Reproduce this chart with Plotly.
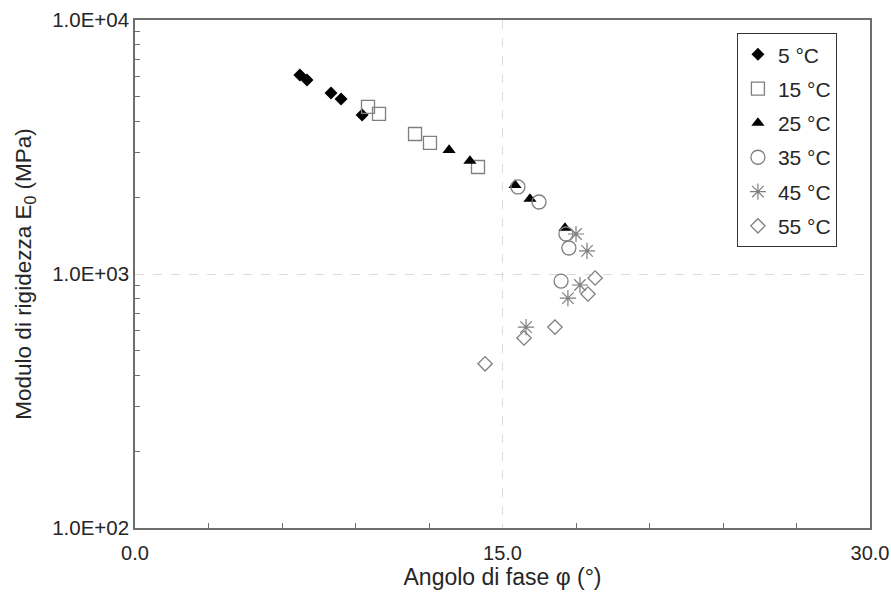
import plotly.graph_objects as go

# Phase angle (deg) and stiffness modulus E0 (MPa) per test temperature
phi_5 = [6.73, 7.02, 8.00, 8.41, 9.27]
e0_5 = [6075, 5807, 5161, 4887, 4227]

phi_15 = [9.51, 9.96, 11.43, 12.04, 14.00]
e0_15 = [4546, 4266, 3558, 3280, 2638]

phi_25 = [12.82, 13.67, 15.51, 16.12, 17.55]
e0_25 = [3076, 2786, 2240, 1974, 1518]

phi_35 = [15.63, 16.49, 17.59, 17.71, 17.39]
e0_35 = [2201, 1921, 1437, 1266, 938]

phi_45 = [18.00, 18.45, 18.16, 17.67, 15.96]
e0_45 = [1437, 1233, 905, 804, 618]

phi_55 = [18.78, 18.49, 17.14, 15.88, 14.29]
e0_55 = [964, 834, 618, 560, 443]

series_names = ["5 °C", "15 °C", "25 °C", "35 °C", "45 °C", "55 °C"]

x_tickvals = [0, 15, 30]
x_ticktext = ["0.0", "15.0", "30.0"]
y_tickvals = [100, 1000, 10000]
y_ticktext = ["1.0E+02", "1.0E+03", "1.0E+04"]

FONT = "Liberation Sans, Arial, sans-serif"
GRAY = "#7f7f7f"
TXT = "#262626"

styles = [
    dict(symbol="diamond", size=10, color="black", line=dict(width=0)),
    dict(symbol="square-open", size=13, color=GRAY, line=dict(width=1.3)),
    dict(symbol="triangle-up", size=11.5, color="black", line=dict(width=0)),
    dict(symbol="circle-open", size=14, color=GRAY, line=dict(width=1.3)),
    dict(symbol="asterisk-open", size=13.5, color=GRAY, line=dict(width=1.2, color=GRAY)),
    dict(symbol="diamond-open", size=11, color=GRAY, line=dict(width=1.3)),
]

data = [(phi_5, e0_5), (phi_15, e0_15), (phi_25, e0_25),
        (phi_35, e0_35), (phi_45, e0_45), (phi_55, e0_55)]

fig = go.Figure()
for i, ((xs, ys), name, st) in enumerate(zip(data, series_names, styles)):
    fig.add_trace(go.Scatter(
        x=xs, y=ys, mode="markers", name=name,
        legendgroup=f"g{i}",
        marker=st,
    ))

fig.update_layout(
    width=891, height=596,
    margin=dict(l=135, r=21, t=20, b=68),
    paper_bgcolor="white", plot_bgcolor="white",
    font=dict(family=FONT, size=20, color=TXT),
    showlegend=True,
    legend=dict(
        x=0.955, y=0.974, xanchor="right", yanchor="top",
        bgcolor="white", bordercolor="#333", borderwidth=1,
        font=dict(family=FONT, size=21, color=TXT),
        traceorder="grouped", tracegroupgap=4,
        itemwidth=30,
    ),
)

fig.update_xaxes(
    range=[0, 30], tickvals=x_tickvals, ticktext=x_ticktext, automargin=False,
    ticks="outside", ticklen=6, tickcolor="rgba(0,0,0,0)",
    showline=True, linecolor="#6e6e6e", linewidth=1.5, mirror=True,
    showgrid=True, gridcolor="#dcdcdc", griddash="dash", gridwidth=1,
    zeroline=False,
    minor=dict(tickvals=[3, 6, 9, 12, 18, 21, 24, 27], ticks="inside",
               ticklen=5, tickcolor="#6e6e6e", showgrid=False),
    title=dict(text="Angolo di fase φ (°)", font=dict(size=23, family=FONT, color=TXT),
               standoff=6),
    tickfont=dict(size=20, family=FONT, color=TXT),
)

y_minor = [m * 10 ** e for e in (2, 3) for m in range(2, 10)]
fig.update_yaxes(
    type="log", range=[2, 4], tickvals=y_tickvals, ticktext=y_ticktext, automargin=False,
    ticks="", showline=True, linecolor="#6e6e6e", linewidth=1.5, mirror=True,
    showgrid=True, gridcolor="#dcdcdc", griddash="dash", gridwidth=1,
    zeroline=False,
    minor=dict(tickvals=y_minor, ticks="inside", ticklen=5,
               tickcolor="#6e6e6e", showgrid=False),
    title=dict(text="Modulo di rigidezza E<sub>0</sub> (MPa)",
               font=dict(size=22.5, family=FONT, color=TXT), standoff=14),
    tickfont=dict(size=20.5, family=FONT, color=TXT),
)

fig.write_html("out.html")
